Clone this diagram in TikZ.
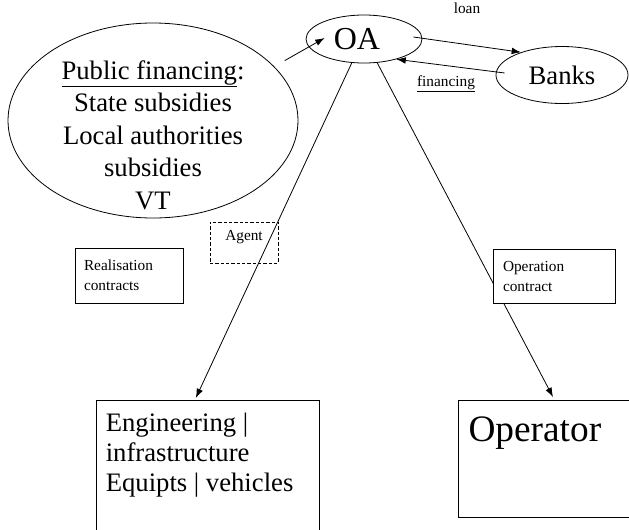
\documentclass[tikz,border=0pt]{standalone}
\usepackage{fontspec}
\setmainfont{Liberation Serif}
\usetikzlibrary{shapes.geometric,arrows.meta,calc}
\tikzset{
  ell/.style={draw, ellipse, inner sep=0pt, line width=0.6pt},
  ctr/.style={draw, rectangle, align=left, inner xsep=6.75pt, inner ysep=0pt, font=\fontsize{11.5}{15}\selectfont, line width=0.6pt},
  big/.style={draw, rectangle, anchor=north west, line width=0.75pt, inner xsep=7pt},
  arr/.style={-{Latex[length=7pt,width=5pt]}, line width=0.6pt},
  sm/.style={font=\fontsize{11.5}{14}\selectfont, inner sep=0pt}
}
\begin{document}
\begin{tikzpicture}[x=0.75pt,y=0.75pt,yscale=-1,xscale=1]
\useasboundingbox (0,0) rectangle (629,529);
%Shape: Ellipse
\node[ell, minimum width=87pt, minimum height=36pt, font=\fontsize{24}{28}\selectfont] (oa) at (364,39) {OA\hspace*{10.5pt}};
%Shape: Ellipse
\node[ell, minimum width=99pt, minimum height=42.75pt, font=\fontsize{20}{24}\selectfont] (banks) at (562,75) {Banks};
%Shape: Ellipse
\node[ell, minimum width=217.5pt, minimum height=146.25pt] (pub) at (153,120.5) {};
% Text Node
\node[align=center, inner sep=0pt, font=\fontsize{20}{24.4}\selectfont] (pubtxt) at (153,135) {\underline{Public financing}:\\State subsidies\\Local authorities\\subsidies\\VT};
%Shape: Rectangle
\node[big, inner ysep=9.5pt, font=\fontsize{20}{22.5}\selectfont] (eng) at (96,400) {\parbox[t][150pt][t]{153pt}{Engineering |\\infrastructure\\Equipts | vehicles}};
%Shape: Rectangle
\node[big, inner xsep=7.5pt, inner ysep=12.4pt, font=\fontsize{28}{32}\selectfont] (oper) at (458,400) {\parbox[t][63pt][t]{135pt}{Operator}};
%Straight Lines
\draw[arr, shorten <=9pt] (pub.24) -- ($(oa.west)+(19,-1)$);
\draw[arr] ($(oa.east)+(-9,-2)$) -- (banks.151);
\draw[arr] ($(banks.west)+(9,-2)$) -- (oa.-32);
\draw[arr] ($(oa.south)+(-12,-1)$) -- ($(eng.north)+(-12,-2)$);
\draw[arr] ($(oa.south)+(13,-1)$) -- ($(oper.north west)+(95,-3)$);
% Text Node
\node[sm, anchor=base] (loan) at (467,13) {loan};
% Text Node
\node[sm, anchor=base] (fin) at (446,86) {\underline{financing}};
%Shape: Rectangle
\node[ctr, dash pattern=on 2.5pt off 1.5pt, text depth=10.5pt, minimum width=51pt, minimum height=30.75pt] (agent) at (244,242.5) {Agent};
%Shape: Rectangle
\node[ctr, text width=67.5pt, minimum height=41.25pt] (real) at (129,275.5) {Realisation\\contracts};
%Shape: Rectangle
\node[ctr, fill=white, inner xsep=7.5pt, text width=76.5pt, minimum height=40.5pt] (opc) at (554,276) {Operation\\contract};
\end{tikzpicture}
\end{document}
